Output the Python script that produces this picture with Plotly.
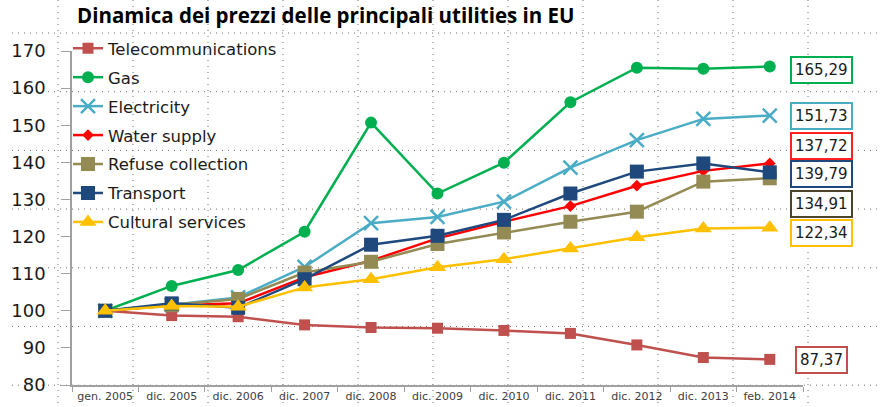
import plotly.graph_objects as go

categories = ["gen. 2005", "dic. 2005", "dic. 2006", "dic. 2007", "dic. 2008", "dic. 2009",
              "dic. 2010", "dic. 2011", "dic. 2012", "dic. 2013", "feb. 2014"]

telecom = [100, 98.7, 98.4, 96.2, 95.5, 95.3, 94.7, 93.9, 90.8, 87.4, 86.9]
gas = [100, 106.7, 111.0, 121.3, 150.7, 131.6, 139.9, 156.2, 165.5, 165.2, 165.8]
electricity = [100, 101.6, 103.6, 111.8, 123.6, 125.3, 129.4, 138.6, 146.0, 151.7, 152.6]
water = [100, 101.4, 102.0, 109.0, 113.5, 119.5, 124.0, 128.2, 133.7, 137.7, 139.7]
refuse = [100, 101.5, 103.2, 110.3, 113.2, 118.0, 121.1, 124.0, 126.7, 134.8, 135.7]
transport = [100, 102.0, 100.8, 108.5, 117.8, 120.2, 124.5, 131.6, 137.5, 139.7, 137.3]
cultural = [100, 101.3, 101.1, 106.3, 108.5, 111.7, 113.9, 116.8, 119.8, 122.2, 122.4]

series_names = ["Telecommunications", "Gas", "Electricity", "Water supply",
                "Refuse collection", "Transport", "Cultural services"]
series_values = [telecom, gas, electricity, water, refuse, transport, cultural]
colors = ["#C0504D", "#00B050", "#4BACC6", "#FF0000", "#948A54", "#1F497D", "#FFC000"]
symbols = ["square", "circle", "x-thin-open", "diamond", "square", "square", "triangle-up"]
msizes = [11, 12, 14, 9, 14, 14, 15]
lwidths = [2.5, 2.5, 2.5, 2.5, 2.5, 2.5, 2.5]

label_texts = ["165,29", "151,73", "137,72", "139,79", "134,91", "122,34", "87,37"]
label_y = [164.9, 152.4, 144.4, 136.9, 128.8, 121.0, 86.7]
label_colors = ["#00B050", "#4BACC6", "#FF2020", "#1F497D", "#4A452A", "#FFC000", "#C0504D"]

y_ticks = [80, 90, 100, 110, 120, 130, 140, 150, 160, 170]

fig = go.Figure()
for i, (name, vals) in enumerate(zip(series_names, series_values)):
    is_x = symbols[i].startswith("x")
    fig.add_trace(go.Scatter(
        x=categories, y=vals, name=name, mode="lines+markers",
        legendgroup=name,
        line=dict(color=colors[i], width=lwidths[i]),
        marker=dict(symbol=symbols[i], size=msizes[i], color=colors[i],
                    line=dict(color=colors[i], width=2.5 if is_x else 0)),
    ))

# background dotted grid (slide decoration)
W, H = 881, 407
L, R, T, B = 72, 803, 51, 385
def px_x(p):
    return (p - L) / (R - L)
def px_y(p):
    return (B - p) / (B - T)

dot = dict(color="#707070", width=1, dash="1px,5px")
shapes = []
for k in range(11):
    xp = 58 + 75 * k
    shapes.append(dict(type="line", xref="paper", yref="paper",
                       x0=px_x(xp), x1=px_x(xp), y0=px_y(0), y1=px_y(H),
                       line=dot, layer="below"))
for k in range(7):
    yp = 33 + 58.7 * k
    shapes.append(dict(type="line", xref="paper", yref="paper",
                       x0=px_x(12), x1=px_x(W), y0=px_y(yp), y1=px_y(yp),
                       line=dot, layer="below"))

annotations = []
for txt, yv, c in zip(label_texts, label_y, label_colors):
    annotations.append(dict(
        xref="paper", yref="y", x=px_x(822), y=yv, text=txt, showarrow=False,
        font=dict(family="DejaVu Sans", size=15, color="#1a1a1a"),
        bordercolor=c, borderwidth=2, borderpad=3, bgcolor="white",
        xanchor="center", yanchor="middle",
    ))

fig.update_layout(
    width=W, height=H,
    margin=dict(l=L, r=W - R, t=T, b=H - B, autoexpand=False),
    paper_bgcolor="white", plot_bgcolor="rgba(0,0,0,0)",
    title=dict(text="<b>Dinamica dei prezzi delle principali utilities in EU</b>",
               x=77 / W, xanchor="left", y=1 - 16 / H, yanchor="middle",
               font=dict(family="Open Sans", size=20.5, color="#000000")),
    showlegend=True,
    legend=dict(x=px_x(68), y=px_y(31), xanchor="left", yanchor="top",
                bgcolor="rgba(0,0,0,0)", tracegroupgap=4.5, maxheight=400,
                font=dict(family="DejaVu Sans", size=16.5, color="#1a1a1a"),
                itemwidth=30),
    shapes=shapes,
    annotations=annotations,
    xaxis=dict(type="category", showgrid=False, zeroline=False, automargin=False,
               showline=True, linecolor="#A0A0A0", linewidth=1.5,
               ticks="outside", tickson="boundaries", ticklen=5, tickcolor="#A0A0A0",
               tickfont=dict(family="DejaVu Sans", size=11, color="#404040"),
               range=[-0.5, len(categories) - 0.5]),
    yaxis=dict(range=[80, 170], tickvals=y_ticks, showgrid=False, zeroline=False,
               automargin=False,
               showline=True, linecolor="#A0A0A0", linewidth=1.5,
               ticks="outside", ticklen=9, tickcolor="#A0A0A0", ticklabelstandoff=12,
               tickfont=dict(family="DejaVu Sans", size=18, color="#1a1a1a")),
)

fig.write_html("out.html")
